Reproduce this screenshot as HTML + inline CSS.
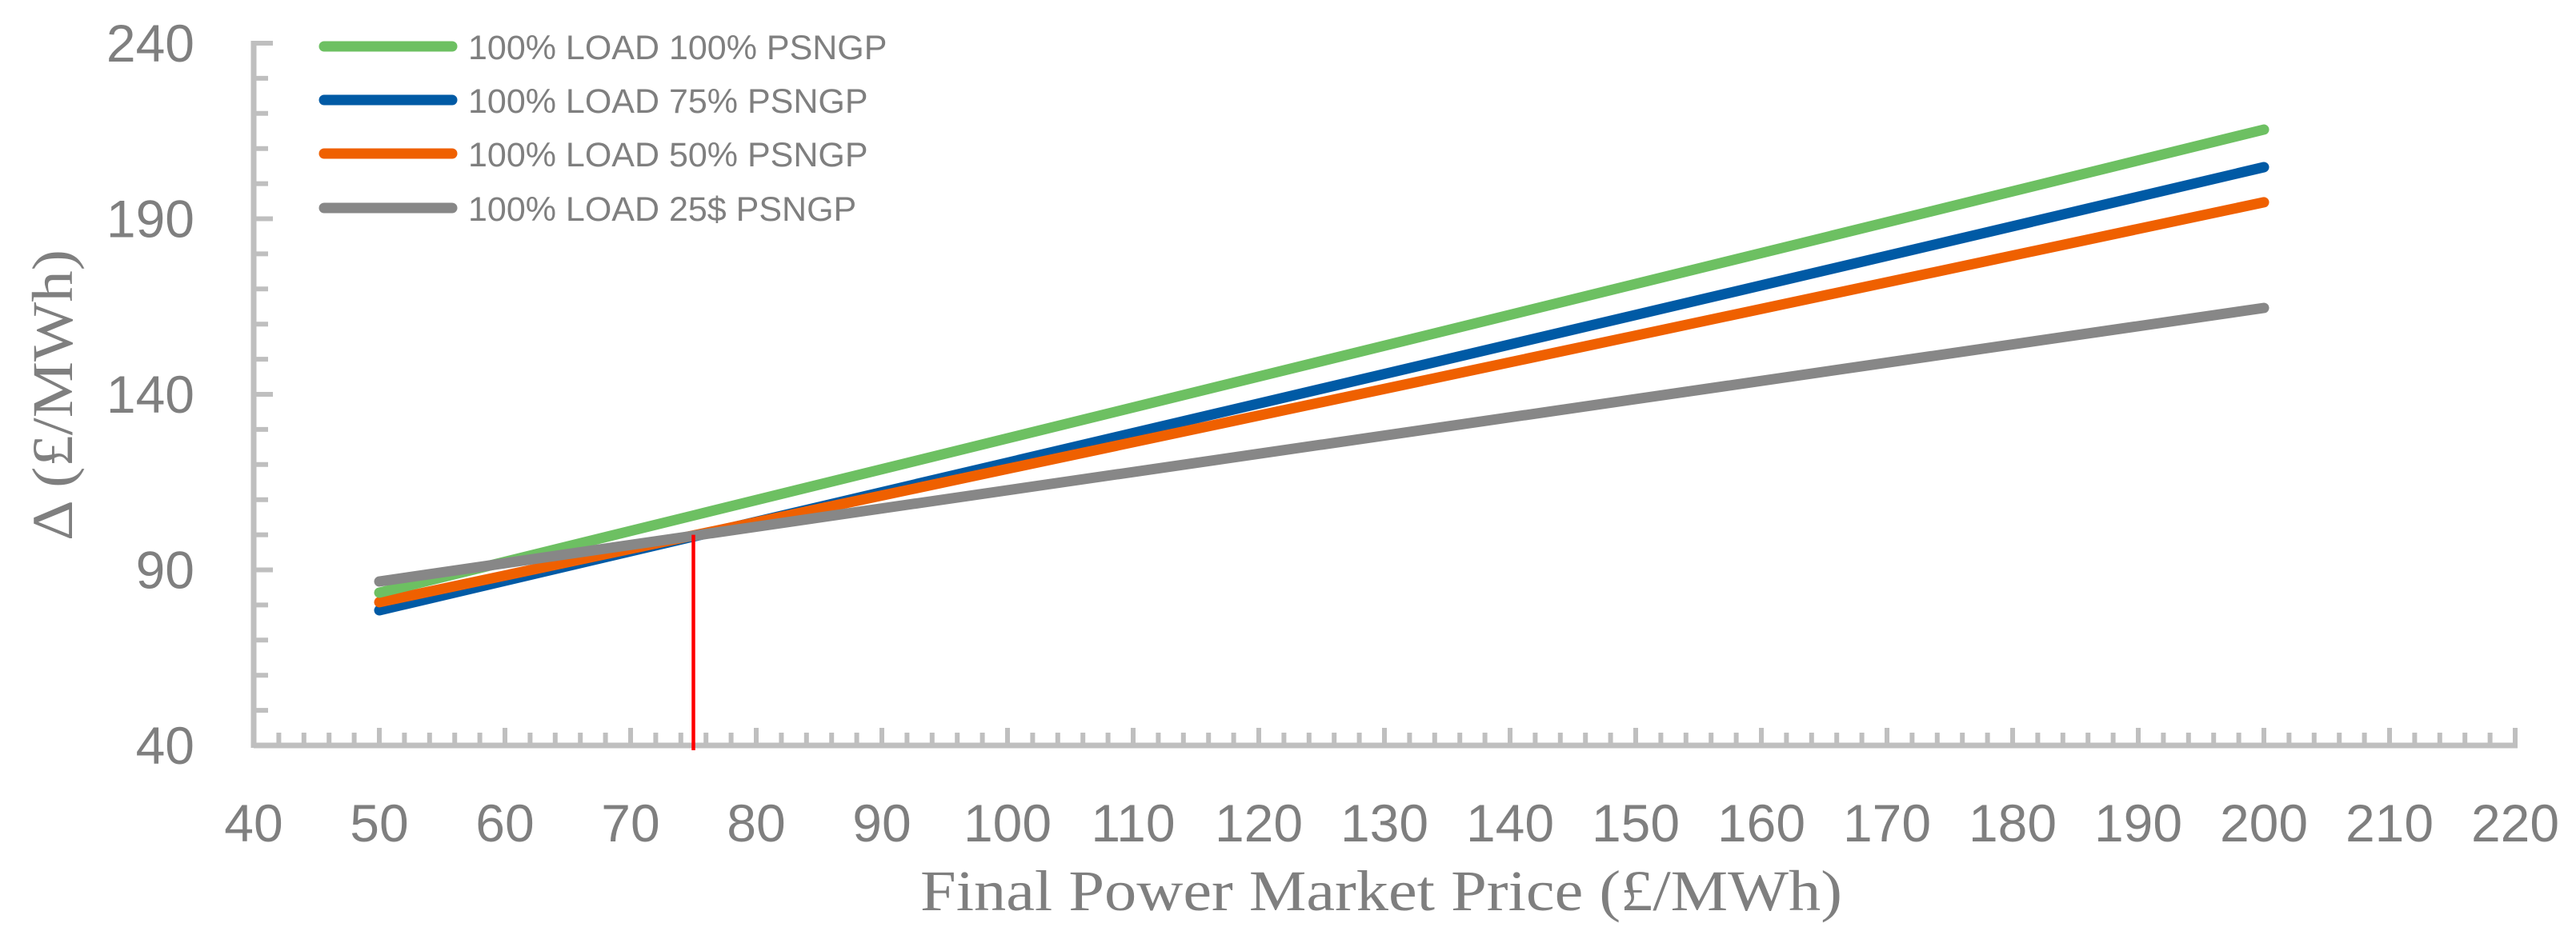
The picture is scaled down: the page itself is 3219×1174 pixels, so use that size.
<!DOCTYPE html>
<html><head><meta charset="utf-8"><style>
html,body{margin:0;padding:0;background:#fff;}
svg{display:block;}
</style></head><body>
<svg id="chart" width="3219" height="1174" viewBox="0 0 3219 1174" xmlns="http://www.w3.org/2000/svg">
<g id="axes"></g>
<g id="series"></g>
<g id="legend"></g>
<text transform="translate(90,494) rotate(-90)" text-anchor="middle" font-family="Liberation Serif, serif" font-size="72" fill="#7f7f7f" textLength="364" lengthAdjust="spacingAndGlyphs">Δ (£/MWh)</text>
<text x="1726" y="1138" text-anchor="middle" font-family="Liberation Serif, serif" font-size="72" fill="#7f7f7f" textLength="1152" lengthAdjust="spacingAndGlyphs">Final Power Market Price (£/MWh)</text>
</svg>
<script>
const xValues = [50, 75, 200];
const seriesNames = ["100% LOAD 100% PSNGP","100% LOAD 75% PSNGP","100% LOAD 50% PSNGP","100% LOAD 25$ PSNGP"];
const green = [83.5, 105.5, 215.4];
const blue = [78.5, 99.5, 204.7];
const orange = [80.8, 99.8, 194.7];
const gray = [86.7, 99.7, 164.6];
const xTicks = [40,50,60,70,80,90,100,110,120,130,140,150,160,170,180,190,200,210,220];
const yTicks = [40,90,140,190,240];
const markerX = 75;
const markerTop = 100;

const NS="http://www.w3.org/2000/svg";
const X0=317, XPX=15.7, Y0=932, YPX=4.39;
function sx(v){return X0+(v-40)*XPX;}
function sy(v){return Y0-(v-40)*YPX;}
function mk(tag,attrs,parent){const e=document.createElementNS(NS,tag);for(const k in attrs)e.setAttribute(k,attrs[k]);parent.appendChild(e);return e;}
const axes=document.getElementById('axes');
const AX="#bfbfbf";
// y axis ticks
for(let v=40; v<=240; v+=10){
  const major = (v-40)%50===0;
  const t=mk('line',{x1:X0,x2:X0+(major?24:18),y1:sy(v),y2:sy(v),stroke:AX,'stroke-width':6},axes);
  
  
}
// x axis ticks
for(let v=40; v<=220; v+=2){
  const major = v%10===0;
  const t=mk('line',{x1:sx(v),x2:sx(v),y1:Y0,y2:Y0-(major?22:16),stroke:AX,'stroke-width':6},axes);
  
  
}
const ya=mk('line',{x1:X0,x2:X0,y1:sy(240)-3,y2:Y0+3,stroke:AX,'stroke-width':7},axes);


const xa=mk('line',{x1:X0,x2:sx(220)+3,y1:Y0,y2:Y0,stroke:AX,'stroke-width':7},axes);


yTicks.forEach(v=>{
  const t=mk('text',{x:243,y:sy(v)+23,'text-anchor':'end','font-family':'Liberation Sans, sans-serif','font-size':66,fill:'#7f7f7f'},axes);
  t.textContent=v;
  
  
});
xTicks.forEach(v=>{
  const t=mk('text',{x:sx(v),y:1052,'text-anchor':'middle','font-family':'Liberation Sans, sans-serif','font-size':66,fill:'#7f7f7f'},axes);
  t.textContent=v;
  
  
});
const ser=document.getElementById('series');
const data=[green,blue,orange,gray];
const colors=["#6dc062","#005aa5","#ef6000","#878787"];
const order=[1,2,0,3];
order.forEach(i=>{
  const pts=xValues.map((x,j)=>sx(x).toFixed(1)+','+sy(data[i][j]).toFixed(1)).join(' ');
  const p=mk('polyline',{points:pts,fill:'none',stroke:colors[i],'stroke-width':13,'stroke-linecap':'round','stroke-linejoin':'round'},ser);
  
  
});
const red=mk('line',{x1:sx(markerX),x2:sx(markerX),y1:sy(markerTop),y2:Y0+6,stroke:'#ff0000','stroke-width':4.5},ser);


const leg=document.getElementById('legend');
const ly=[58,125,192,260];
seriesNames.forEach((n,i)=>{
  const l=mk('line',{x1:405,x2:565,y1:ly[i],y2:ly[i],stroke:colors[i],'stroke-width':13,'stroke-linecap':'round'},leg);
  
  
  const t=mk('text',{x:585,y:ly[i]+16,'font-family':'Liberation Sans, sans-serif','font-size':43,fill:'#7f7f7f'},leg);
  t.textContent=n;
  
  
});
</script>
</body></html>
